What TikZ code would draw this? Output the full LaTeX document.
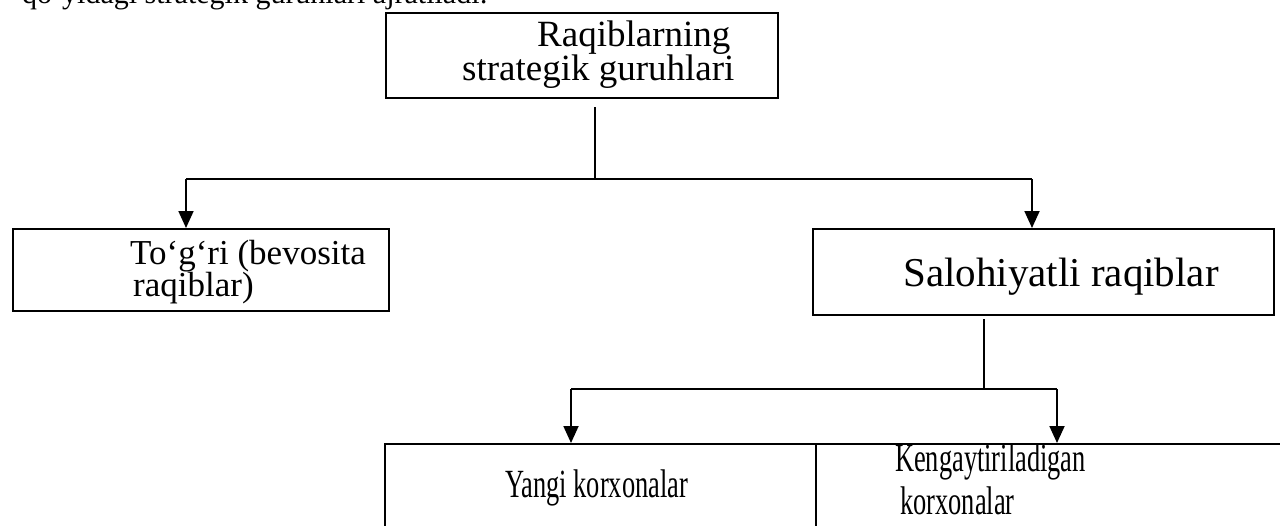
\documentclass[tikz,border=0pt]{standalone}
\usepackage{fontspec}
\setmainfont{Liberation Serif}
\usetikzlibrary{arrows.meta}
\begin{document}
\begin{tikzpicture}[x=1pt,y=-1pt,
  box/.style={draw,line width=2.4pt,rectangle,inner sep=0pt,anchor=north west},
  txt/.style={anchor=base west,inner sep=0pt},
  link/.style={line width=1.8pt},
  arr/.style={line width=1.8pt,-{Triangle[width=15pt,length=17pt]}}]
\useasboundingbox (0,0) rectangle (1280,525);
\clip (0,0) rectangle (1280,525);

% heading line, partly above the page
\node[txt,font=\fontsize{30}{34}\selectfont] (head) at (22,3) {qo‘yidagi strategik guruhlari ajratiladi:};

% boxes
\node[box,minimum width=392pt,minimum height=85pt] (top) at (385,12) {};
\node[box,minimum width=376pt,minimum height=82pt] (left) at (12,228) {};
\node[box,minimum width=461pt,minimum height=86pt] (right) at (812,228) {};
\node[box,minimum width=431pt,minimum height=120pt] (newf) at (384,443) {};
\node[box,minimum width=475pt,minimum height=120pt] (expf) at (815,443) {};

% box texts
\node[txt,font=\fontsize{37}{40}\selectfont] (t1) at (537,46) {Raqiblarning};
\node[txt,font=\fontsize{37}{40}\selectfont] (t2) at (462,80) {strategik guruhlari};
\node[txt,font=\fontsize{35}{38}\selectfont] (t3) at (130,264) {To‘g‘ri (bevosita};
\node[txt,font=\fontsize{35}{38}\selectfont] (t4) at (133,296) {raqiblar)};
\node[txt,font=\fontsize{41}{44}\selectfont] (t5) at (903,286) {Salohiyatli raqiblar};
\node[txt,font=\fontsize{40}{44}\selectfont] (t6) at (505,497) {\scalebox{0.66}[1]{Yangi korxonalar}};
\node[txt,font=\fontsize{40}{44}\selectfont] (t7) at (895,471) {\scalebox{0.66}[1]{Kengaytiriladigan}};
\node[txt,font=\fontsize{40}{44}\selectfont] (t8) at (900,514) {\scalebox{0.66}[1]{korxonalar}};

% first level connectors
\coordinate (j1) at (595,179);
\coordinate (la) at (186,179);
\coordinate (ra) at (1032,179);
\draw[link] ([yshift=-8pt]top.south -| j1) -- (j1);
\draw[link] (la) -- (ra);
\draw[arr] (la) -- (la |- left.north);
\draw[arr] (ra) -- (ra |- right.north);

% second level connectors
\coordinate (j2) at (984,389);
\coordinate (lb) at (571,389);
\coordinate (rb) at (1057,389);
\draw[link] ([yshift=-3pt]right.south -| j2) -- (j2);
\draw[link] (lb) -- (rb);
\draw[arr] (lb) -- (lb |- newf.north);
\draw[arr] (rb) -- (rb |- expf.north);
\end{tikzpicture}
\end{document}
